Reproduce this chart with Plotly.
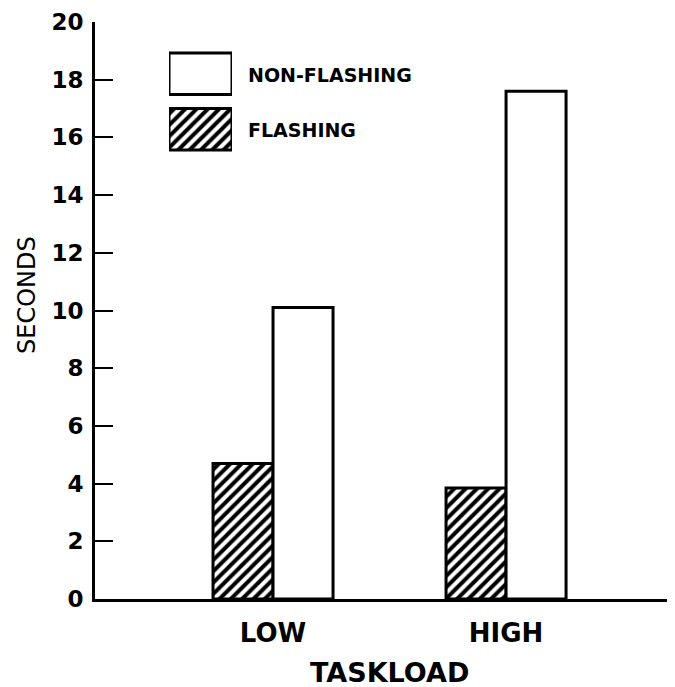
import plotly.graph_objects as go

# Data
taskload = ["LOW", "HIGH"]
flashing = [4.7, 3.85]
non_flashing = [10.1, 17.6]
y_ticks = list(range(0, 21, 2))

legend_labels = ["FLASHING", "NON-FLASHING"]

FONT_B = "DejaVu Sans"
HATCH = dict(fgcolor="black", bgcolor="white", fgopacity=1, size=8, solidity=0.5)

# page body adds an 8px margin, so work in page pixels and shift
OFF = 8
W, H = 675 - OFF, 687 - OFF
L, T, B = 95 - OFF, 22 - OFF, 687 - 599
PW, PH = W - L, H - T - B


def px(x):
    return (x - 95) / PW


def py(y):
    return (599 - y) / PH


fig = go.Figure()

fig.add_trace(go.Bar(
    x=taskload, y=flashing, name="FLASHING",
    marker=dict(color="white", line=dict(color="black", width=3),
                pattern=dict(shape="/", **HATCH)),
))
fig.add_trace(go.Bar(
    x=taskload, y=non_flashing, name="NON-FLASHING",
    marker=dict(color="white", line=dict(color="black", width=3)),
))

# legend swatches drawn as bars in a small inset axis
fig.add_trace(go.Bar(
    y=legend_labels, x=[1, 1], orientation="h", width=0.75,
    xaxis="x2", yaxis="y2",
    marker=dict(color="white", line=dict(color="black", width=3),
                pattern=dict(shape=["/", ""], **HATCH)),
))

fig.update_layout(
    width=W, height=H,
    margin=dict(l=L, r=0, t=T, b=B),
    paper_bgcolor="white", plot_bgcolor="white",
    barmode="group", bargap=0.485, bargroupgap=0,
    showlegend=False,
    xaxis=dict(range=[-0.764, 1.725], showline=True, linecolor="black",
               linewidth=3, ticks="", showgrid=False, zeroline=False,
               tickfont=dict(family=FONT_B, size=26, color="black", weight="bold"),
               ticklabelstandoff=9),
    yaxis=dict(range=[0, 20], tickvals=y_ticks, showline=True,
               linecolor="black", linewidth=3, ticks="inside", ticklen=18,
               tickwidth=2, tickcolor="black", showgrid=False, zeroline=False,
               tickfont=dict(family=FONT_B, size=23, color="black", weight="bold"),
               ticklabelstandoff=4),
    xaxis2=dict(domain=[px(169), px(232)], range=[0, 1], visible=False,
                anchor="y2"),
    yaxis2=dict(domain=[py(157), py(46)], visible=False, anchor="x2",
                categoryorder="array", categoryarray=legend_labels),
)

fig.add_annotation(text="NON-FLASHING", x=px(246), y=py(75),
                   xref="paper", yref="paper", xanchor="left", yanchor="middle",
                   showarrow=False,
                   font=dict(family=FONT_B, size=19, color="black", weight="bold"))
fig.add_annotation(text="FLASHING", x=px(246), y=py(130),
                   xref="paper", yref="paper", xanchor="left", yanchor="middle",
                   showarrow=False,
                   font=dict(family=FONT_B, size=19, color="black", weight="bold"))
fig.add_annotation(text="SECONDS", x=px(27), y=py(295),
                   xref="paper", yref="paper", xanchor="center", yanchor="middle",
                   textangle=-90, showarrow=False,
                   font=dict(family="DejaVu Sans", size=24, color="black"))
fig.add_annotation(text="TASKLOAD", x=px(389), y=py(672),
                   xref="paper", yref="paper", xanchor="center", yanchor="middle",
                   showarrow=False,
                   font=dict(family=FONT_B, size=27, color="black", weight="bold"))

fig.write_html("out.html")
